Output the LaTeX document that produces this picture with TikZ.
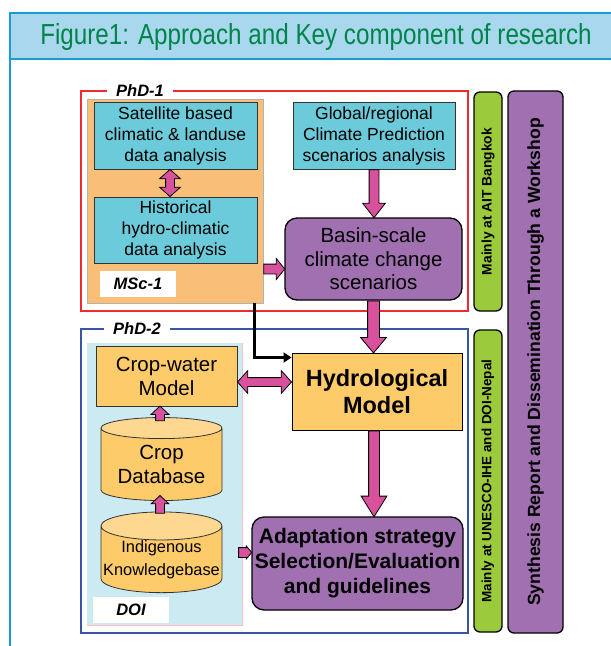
\documentclass[tikz,border=0pt]{standalone}
\usepackage{fontspec}
\setmainfont{Liberation Sans}
\newfontfamily\titlefont[FakeStretch=0.835]{Liberation Sans}
\usetikzlibrary{shapes.geometric,shapes.arrows,arrows.meta,calc}

\definecolor{bandblue}{HTML}{A9D8EE}
\definecolor{lineblue}{HTML}{1B9AD6}
\definecolor{titlegreen}{HTML}{00844A}
\definecolor{phdred}{HTML}{EE2B2F}
\definecolor{phdblue}{HTML}{3A55A5}
\definecolor{mscorange}{HTML}{F9BF78}
\definecolor{boxcyan}{HTML}{6CCBDA}
\definecolor{boxyellow}{HTML}{FECB6B}
\definecolor{boxpurple}{HTML}{A170B1}
\definecolor{arrowpink}{HTML}{D8519C}
\definecolor{doiblue}{HTML}{CCEAF1}
\definecolor{sidegreen}{HTML}{9BCB3C}

\tikzset{
  databox/.style={draw=black!80, fill=boxcyan, line width=0.8pt, inner sep=0pt, align=center,
    font=\fontsize{17.5}{21}\selectfont},
  scenbox/.style={draw=black, fill=boxpurple, line width=1.3pt, rounded corners=12pt, inner sep=0pt, align=center},
  modelbox/.style={draw=black!80, fill=boxyellow, line width=1pt, inner sep=0pt, align=center},
  dbase/.style={cylinder, shape border rotate=90, draw=black!80, line width=0.8pt, aspect=0.24,
    cylinder uses custom fill, cylinder body fill=boxyellow, cylinder end fill=boxyellow!75!white,
    minimum width=121pt, inner sep=0pt, align=center},
  tag/.style={fill=white, inner sep=0pt, font=\fontsize{16.5}{18}\selectfont\bfseries\itshape},
  sidebox/.style={draw=black, line width=1.3pt, rounded corners=6pt, inner sep=0pt, rotate=90},
  fat/.style n args={3}{single arrow, draw=black, fill=arrowpink, line width=0.8pt, inner xsep=0pt,
    inner ysep=#1/2, anchor=tail, single arrow head extend=#2, single arrow tip angle=#3},
  fatboth/.style n args={3}{double arrow, draw=black, fill=arrowpink, line width=0.8pt, inner xsep=0pt,
    inner ysep=#1/2, anchor=center, double arrow head extend=#2, double arrow tip angle=#3}
}

% thick pink arrow from #2 to #3
\newcommand\fatlink[3][]{%
  \path let \p1=(#2), \p2=(#3), \n1={veclen(\x2-\x1,\y2-\y1)}, \n2={atan2(\y2-\y1,\x2-\x1)} in
    node[#1, minimum height=\n1, rotate=\n2] at (\p1) {};}
% same, with heads at both ends
\newcommand\fatpair[3][]{%
  \path let \p1=(#2), \p2=(#3), \n1={veclen(\x2-\x1,\y2-\y1)}, \n2={atan2(\y2-\y1,\x2-\x1)} in
    node[#1, minimum height=\n1, rotate=\n2] at ($(\p1)!0.5!(\p2)$) {};}

\begin{document}
\begin{tikzpicture}[x=1pt,y=-1pt]
\useasboundingbox (0,0) rectangle (611,646);

% frame and title
\fill[bandblue] (10,13) rectangle (620,59);
\draw[lineblue, line width=2pt] (620,13) -- (10,13) -- (10,650);
\draw[lineblue, line width=2pt] (10,59) -- (620,59);
\node[text=titlegreen, font=\titlefont\fontsize{29}{31}\selectfont] (title) at (316,37)
  {Figure1: Approach and Key component of research};

% PhD-1 part
\draw[phdred, line width=1.5pt] (81,91) rectangle (468,311);
\node[tag, minimum width=66pt, minimum height=16pt] (phdone) at (140,91) {PhD-1};
\node[fill=mscorange, draw=black!30, line width=0.5pt, minimum width=176pt, minimum height=204pt] (msc) at (175,201) {};
\node[databox, minimum width=163pt, minimum height=67pt] (sat) at (175.5,135.5)
  {Satellite based\\climatic \& landuse\\data analysis};
\node[databox, minimum width=163pt, minimum height=66pt] (hist) at (175.5,230)
  {Historical\\hydro-climatic\\data analysis};
\node[tag, minimum width=76pt, minimum height=26pt] (msclab) at (138,284) {MSc-1};
\node[databox, minimum width=162pt, minimum height=67pt] (gcm) at (374,135.5)
  {Global/regional\\Climate Prediction\\scenarios analysis};
\node[scenbox, minimum width=177pt, minimum height=82pt, font=\fontsize{20.5}{23.5}\selectfont] (basin) at (373.5,259)
  {Basin-scale\\climate change\\scenarios};

% PhD-2 part
\draw[phdblue, line width=1.5pt] (81,329) rectangle (468,633);
\node[tag, minimum width=66pt, minimum height=16pt] (phdtwo) at (137,329) {PhD-2};
\node[fill=doiblue, minimum width=155pt, minimum height=282pt] (doi) at (164.5,484) {};
\draw[red!25, line width=1pt] (doi.north east) -- (doi.south east) -- (doi.south west);
\node[modelbox, minimum width=141pt, minimum height=60pt, font=\fontsize{20.5}{24}\selectfont] (cropwater) at (166.5,376)
  {Crop-water\\Model};
\node[dbase, minimum height=83pt, font=\fontsize{20.5}{24}\selectfont] (cropdb) at (161.5,464.5) {Crop\\Database};
\node[dbase, minimum height=77pt, font=\fontsize{16.4}{23}\selectfont] (indig) at (161.5,559.5) {Indigenous\\Knowledgebase};
\node[tag, minimum width=76pt, minimum height=26pt] (doilab) at (131,610) {DOI};
\node[modelbox, draw=black, minimum width=170pt, minimum height=77pt, font=\fontsize{23.5}{27}\selectfont\bfseries] (hydro) at (377,391.5)
  {Hydrological\\Model};
\node[scenbox, minimum width=211pt, minimum height=93pt, font=\fontsize{21}{25}\selectfont\bfseries] (adapt) at (357.5,563.5)
  {Adaptation strategy\\Selection/Evaluation\\and guidelines};

% side bars
\node[sidebox, fill=sidegreen, minimum width=219pt, minimum height=28pt, font=\fontsize{13.8}{15}\selectfont\bfseries] (ait) at (488,201.5)
  {Mainly at AIT Bangkok};
\node[sidebox, fill=sidegreen, minimum width=302pt, minimum height=28pt, font=\fontsize{13.5}{15}\selectfont\bfseries] (unesco) at (488,481)
  {Mainly at UNESCO-IHE and DOI-Nepal};
\node[sidebox, fill=boxpurple, minimum width=542pt, minimum height=55pt, font=\fontsize{17.6}{19}\selectfont\bfseries] (synth) at (535.5,362)
  {Synthesis Report and Dissemination Through a Workshop};

% connectors
\fatpair[fatboth={8pt}{6pt}{96}]{$(sat.south)+(-5.5,0)$}{$(hist.north)+(-5.5,0)$}
\fatlink[fat={9pt}{5.5pt}{102}]{$(basin.west -| msc.east)+(0,10)$}{$(basin.west)+(0,10)$}
\fatlink[fat={9pt}{6.5pt}{76}]{gcm.south}{gcm.south |- basin.north}
\fatlink[fat={11pt}{7pt}{80}]{basin.south}{basin.south |- hydro.north}
\fatlink[fat={10pt}{7.5pt}{64}]{$(hydro.south)+(-3,0)$}{$(hydro.south |- adapt.north)+(-3,0)$}
\fatpair[fatboth={8pt}{7pt}{96}]{$(cropwater.east)+(0,6)$}{$(cropwater.east -| hydro.west)+(0,6)$}
\fatlink[fat={8pt}{4.5pt}{94}]{$(cropdb.north)+(-1.5,4)$}{$(cropwater.south)+(-6.5,0)$}
\fatlink[fat={8pt}{4.5pt}{94}]{$(indig.north)+(-1.5,2)$}{$(cropdb.south)+(-1.5,-5)$}
\fatlink[fat={9pt}{1.5pt}{100}]{$(adapt.west -| doi.east)+(-4,-11)$}{$(adapt.west)+(0,-11)$}
\draw[line width=2.5pt, -{Triangle[length=8pt,width=10pt]}] ($(msc.south east)+(-9,0)$) |- ($(hydro.north west)+(0,5)$);
\end{tikzpicture}
\end{document}
